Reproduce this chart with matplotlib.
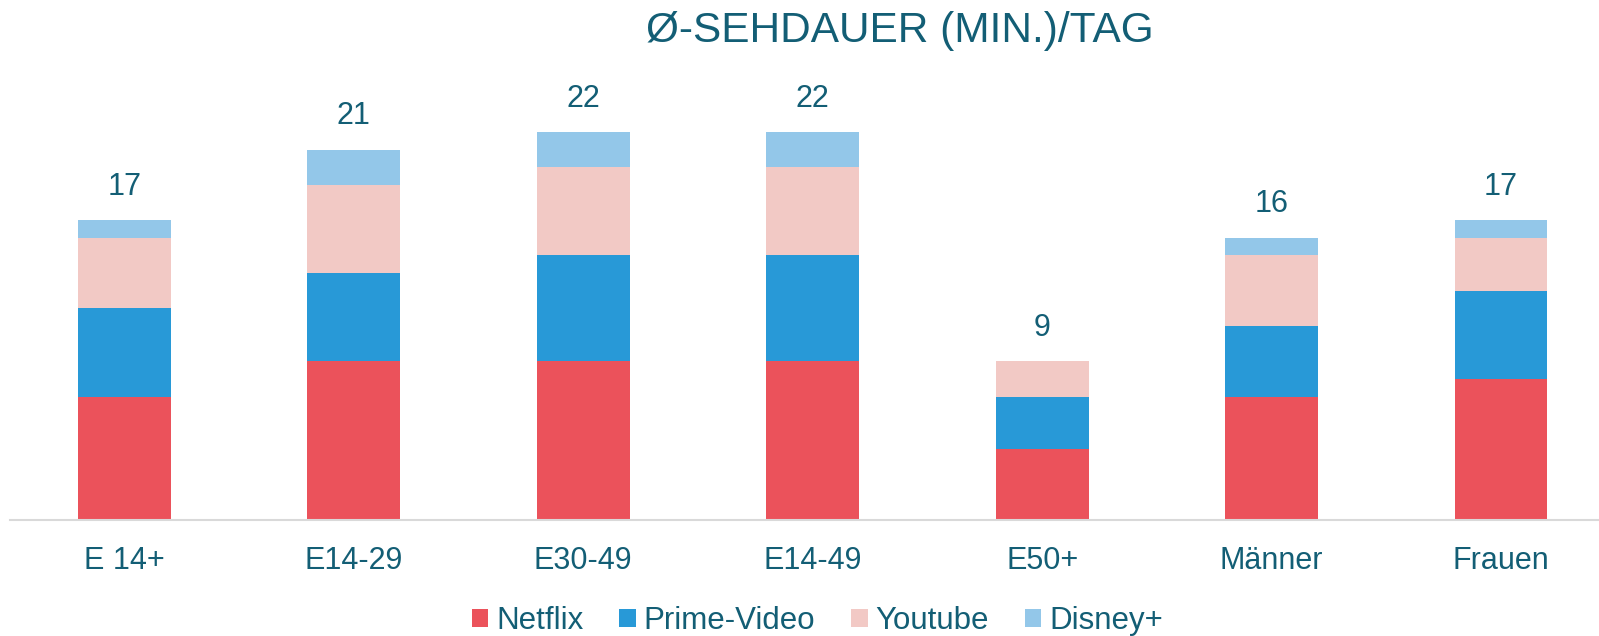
import numpy as np
import matplotlib
matplotlib.use('Agg')
import matplotlib.pyplot as plt

# data (minutes per day)
categories = ['E 14+', 'E14-29', 'E30-49', 'E14-49', 'E50+', 'Männer', 'Frauen']
netflix = [7, 9, 9, 9, 4, 7, 8]
prime = [5, 5, 6, 6, 3, 4, 5]
youtube = [4, 5, 5, 5, 2, 4, 3]
disney = [1, 2, 2, 2, 0, 1, 1]
totals = [17, 21, 22, 22, 9, 16, 17]

series_names = ['Netflix', 'Prime-Video', 'Youtube', 'Disney+']
colors = ['#EB525B', '#2899D7', '#F2C9C5', '#93C7E9']
txt = '#135E75'

plt.rcParams['font.family'] = ['Liberation Sans', 'DejaVu Sans']

fig = plt.figure(figsize=(15.99, 6.36), dpi=100)
# axes spans a bit past the right edge, like the original
ax = fig.add_axes([9.7 / 1599, 116 / 636, 1606 / 1599, 441 / 636])

x = np.arange(len(categories))
bottom = np.zeros(len(categories))
for vals, name, c in zip([netflix, prime, youtube, disney], series_names, colors):
    ax.bar(x, vals, width=0.405, bottom=bottom, color=c, label=name, edgecolor='none')
    bottom += np.array(vals)

for xi, t in zip(x, totals):
    ax.annotate(str(t), (xi, t), xytext=(0, 24), textcoords='offset points',
                ha='center', va='center', fontsize=22, color=txt)

ax.set_xlim(-0.5, 6.5)
ax.set_ylim(0, 25)
ax.set_xticks(x)
ax.set_xticklabels(categories, fontsize=22, color=txt)
ax.tick_params(axis='x', length=0, pad=19)
ax.set_yticks([])
for s in ['top', 'right', 'left']:
    ax.spines[s].set_visible(False)
ax.spines['bottom'].set_color('#D9D9D9')
ax.spines['bottom'].set_linewidth(1.5)

fig.text(900 / 1599, 1 - 31 / 636, 'Ø-SEHDAUER (MIN.)/TAG', ha='center', va='center',
         fontsize=30.5, color=txt)

leg = fig.legend(loc='center', bbox_to_anchor=(817.5 / 1599, 1 - 621 / 636), ncol=4, frameon=False,
                 fontsize=22.5, handlelength=0.52, handleheight=0.52, handletextpad=0.26,
                 columnspacing=1.15)
for t in leg.get_texts():
    t.set_color(txt)

plt.savefig('out.png', dpi=100)
